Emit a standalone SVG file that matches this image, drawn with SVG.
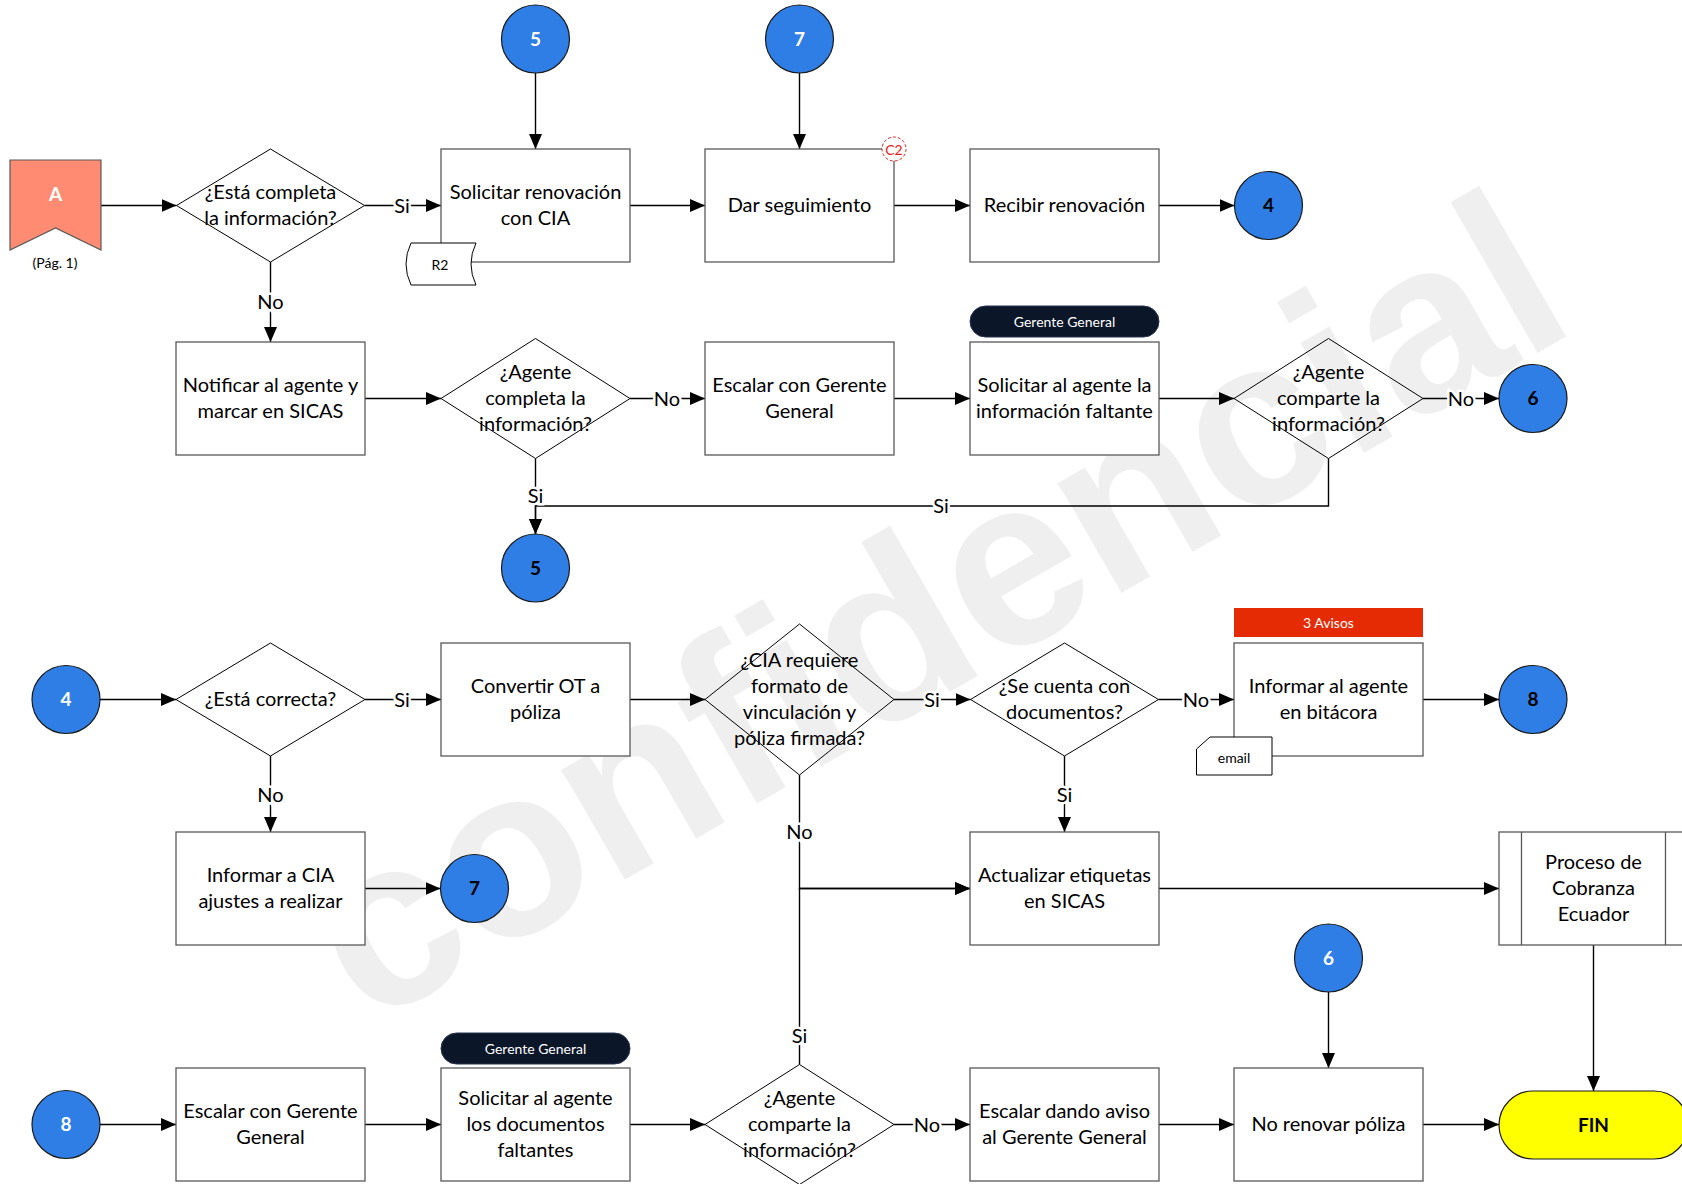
<svg xmlns="http://www.w3.org/2000/svg" width="1682" height="1184" viewBox="0 0 1682 1184">
<defs>
<marker id="arr" viewBox="0 0 15 13" markerWidth="15" markerHeight="13" refX="15" refY="6.5" orient="auto" markerUnits="userSpaceOnUse">
<path d="M0,0 L15,6.5 L0,13 Z" fill="#000"/>
</marker>
<style>
.box{fill:#fff;stroke:#595959;stroke-width:1.3}
.dia{fill:none;stroke:#000;stroke-width:1}
.circ{fill:#2e7ee5;stroke:#1a1a1a;stroke-width:1.2}
.t{font-family:Lato,"Liberation Sans",sans-serif;font-size:20px;fill:#000;text-anchor:middle;dominant-baseline:central;transform:translateY(-2px)}
.num{font-family:Lato,"Liberation Sans",sans-serif;font-size:19px;font-weight:bold;text-anchor:middle;dominant-baseline:central;transform:translateY(-1px)}
.w{fill:#fff}
.k{fill:#000}
.sm{font-family:Lato,"Liberation Sans",sans-serif;font-size:14px;text-anchor:middle;dominant-baseline:central}
.con{fill:none;stroke:#000;stroke-width:1.4;marker-end:url(#arr)}
.ln{fill:none;stroke:#000;stroke-width:1.4}
.lbl{font-family:Lato,"Liberation Sans",sans-serif;font-size:20px;fill:#000;text-anchor:middle;dominant-baseline:central;stroke:#fff;stroke-width:5;paint-order:stroke}
</style>
</defs>
<rect width="1682" height="1184" fill="#fff"/>
<text x="368" y="1028" transform="rotate(-30 368 1028)" font-family="'Liberation Sans',Arial,sans-serif" font-weight="bold" font-size="240" fill="#efefef">confidencial</text>

<g id="connectors">
<path class="con" d="M101,205.5 H176.5"/>
<path class="con" d="M364.5,205.5 H441"/>
<path class="con" d="M270.5,262 V342"/>
<path class="con" d="M535.5,73 V149"/>
<path class="con" d="M630,205.5 H705"/>
<path class="con" d="M799.5,73 V149"/>
<path class="con" d="M894,205.5 H970"/>
<path class="con" d="M1159,205.5 H1234.5"/>
<path class="con" d="M365,398.5 H441"/>
<path class="con" d="M630,398.5 H705"/>
<path class="con" d="M894,398.5 H970"/>
<path class="con" d="M1159,398.5 H1234"/>
<path class="con" d="M1423,398.5 H1499"/>
<path class="con" d="M535.5,458.5 V534"/>
<path class="con" d="M1328.5,458.5 V506 H535.5 V534"/>
<path class="con" d="M100,699.5 H176"/>
<path class="con" d="M365,699.5 H441"/>
<path class="con" d="M270.5,756 V832"/>
<path class="con" d="M365,888.5 H440.5"/>
<path class="con" d="M630,699.5 H705"/>
<path class="con" d="M894,699.5 H970.5"/>
<path class="con" d="M1158.5,699.5 H1234"/>
<path class="con" d="M1423,699.5 H1499"/>
<path class="con" d="M1064.5,756 V832"/>
<path class="con" d="M799.5,775 V888.5 H970"/>
<path class="con" d="M799.5,1064.5 V888.5 H970"/>
<path class="con" d="M1159,888.5 H1499"/>
<path class="con" d="M1593.5,945 V1091"/>
<path class="con" d="M1328.5,992 V1068"/>
<path class="con" d="M100,1124.5 H176"/>
<path class="con" d="M365,1124.5 H441"/>
<path class="con" d="M630,1124.5 H705"/>
<path class="con" d="M894,1124.5 H970"/>
<path class="con" d="M1159,1124.5 H1234"/>
<path class="con" d="M1423,1124.5 H1499"/>
<text class="lbl" x="402" y="204.5">Si</text>
<text class="lbl" x="270.5" y="301">No</text>
<text class="lbl" x="667" y="397.5">No</text>
<text class="lbl" x="1461" y="397.5">No</text>
<text class="lbl" x="535.5" y="495">Si</text>
<text class="lbl" x="941" y="505">Si</text>
<text class="lbl" x="402" y="698.5">Si</text>
<text class="lbl" x="270.5" y="794">No</text>
<text class="lbl" x="932" y="698.5">Si</text>
<text class="lbl" x="1196" y="698.5">No</text>
<text class="lbl" x="1064.5" y="794">Si</text>
<text class="lbl" x="799.5" y="831">No</text>
<text class="lbl" x="799.5" y="1035">Si</text>
<text class="lbl" x="927" y="1123.5">No</text>
</g>

<g id="nA"><path d="M10,160 H101 V250 L55.5,228 L10,250 Z" fill="#ff8c72" stroke="#595959" stroke-width="1.2"/>
<text class="num w" x="55.5" y="194">A</text>
<text class="sm k" x="55" y="262" font-size="13.5">(Pág. 1)</text></g>

<g id="d1"><path class="dia" d="M270.5,149 L364.5,205.5 L270.5,262 L176.5,205.5 Z"/>
<text class="t" x="270.5" y="192.5">¿Está completa</text><text class="t" x="270.5" y="218.5">la información?</text></g>

<g id="c5a"><circle class="circ" cx="535.5" cy="39" r="34"/><text class="num w" x="535.5" y="39">5</text></g>
<g id="c7a"><circle class="circ" cx="799.5" cy="39" r="34"/><text class="num w" x="799.5" y="39">7</text></g>

<g id="b1"><rect class="box" x="441" y="149" width="189" height="113"/>
<text class="t" x="535.5" y="192.5">Solicitar renovación</text><text class="t" x="535.5" y="218.5">con CIA</text>
<path d="M411,243 H476 Q466,264 476,285 H411 Q401,264 411,243 Z" fill="#fff" stroke="#000" stroke-width="1"/>
<text class="sm k" x="440" y="264" font-size="13">R2</text></g>

<g id="b2"><rect class="box" x="705" y="149" width="189" height="113"/>
<text class="t" x="799.5" y="205.5">Dar seguimiento</text>
<circle cx="894" cy="149" r="12" fill="#fff" stroke="#e02020" stroke-width="1" stroke-dasharray="3,2"/>
<text class="sm" x="894" y="149" font-size="11" fill="#e02020">C2</text></g>

<g id="b3"><rect class="box" x="970" y="149" width="189" height="113"/>
<text class="t" x="1064.5" y="205.5">Recibir renovación</text></g>

<g id="c4a"><circle class="circ" cx="1268.5" cy="205.5" r="34"/><text class="num k" x="1268.5" y="205.5">4</text></g>

<g id="b4"><rect class="box" x="176" y="342" width="189" height="113"/>
<text class="t" x="270.5" y="385.5">Notificar al agente y</text><text class="t" x="270.5" y="411.5">marcar en SICAS</text></g>

<g id="d2"><path class="dia" d="M535.5,338.5 L630,398.5 L535.5,458.5 L441,398.5 Z"/>
<text class="t" x="535.5" y="372.5">¿Agente</text><text class="t" x="535.5" y="398.5">completa la</text><text class="t" x="535.5" y="424.5">información?</text></g>

<g id="b5"><rect class="box" x="705" y="342" width="189" height="113"/>
<text class="t" x="799.5" y="385.5">Escalar con Gerente</text><text class="t" x="799.5" y="411.5">General</text></g>

<g id="b6"><rect x="970" y="306" width="189" height="31" rx="15.5" fill="#0b1628" stroke="#2a3550" stroke-width="1"/>
<text class="sm w" x="1064.5" y="321.5">Gerente General</text>
<rect class="box" x="970" y="342" width="189" height="113"/>
<text class="t" x="1064.5" y="385.5">Solicitar al agente la</text><text class="t" x="1064.5" y="411.5">información faltante</text></g>

<g id="d3"><path class="dia" d="M1328.5,338.5 L1423,398.5 L1328.5,458.5 L1234,398.5 Z"/>
<text class="t" x="1328.5" y="372.5">¿Agente</text><text class="t" x="1328.5" y="398.5">comparte la</text><text class="t" x="1328.5" y="424.5">información?</text></g>

<g id="c6a"><circle class="circ" cx="1533" cy="398.5" r="34"/><text class="num k" x="1533" y="398.5">6</text></g>
<g id="c5b"><circle class="circ" cx="535.5" cy="568" r="34"/><text class="num k" x="535.5" y="568">5</text></g>

<g id="c4b"><circle class="circ" cx="66" cy="699.5" r="34"/><text class="num w" x="66" y="699.5">4</text></g>

<g id="d4"><path class="dia" d="M270.5,643 L365,699.5 L270.5,756 L176,699.5 Z"/>
<text class="t" x="270.5" y="699.5">¿Está correcta?</text></g>

<g id="b7"><rect class="box" x="441" y="643" width="189" height="113"/>
<text class="t" x="535.5" y="686.5">Convertir OT a</text><text class="t" x="535.5" y="712.5">póliza</text></g>

<g id="d5"><path class="dia" d="M799.5,624 L894,699.5 L799.5,775 L705,699.5 Z"/>
<text class="t" x="799.5" y="660.5">¿CIA requiere</text><text class="t" x="799.5" y="686.5">formato de</text><text class="t" x="799.5" y="712.5">vinculación y</text><text class="t" x="799.5" y="738.5">póliza firmada?</text></g>

<g id="d6"><path class="dia" d="M1064.5,643 L1158.5,699.5 L1064.5,756 L970.5,699.5 Z"/>
<text class="t" x="1064.5" y="686.5">¿Se cuenta con</text><text class="t" x="1064.5" y="712.5">documentos?</text></g>

<g id="b8"><rect x="1234" y="608" width="189" height="29" fill="#e52b04"/>
<text class="sm w" x="1328.5" y="622.5">3 Avisos</text>
<rect class="box" x="1234" y="643" width="189" height="113"/>
<text class="t" x="1328.5" y="686.5">Informar al agente</text><text class="t" x="1328.5" y="712.5">en bitácora</text>
<path d="M1210,737 H1272 V775 H1196.5 V749 Z" fill="#fff" stroke="#000" stroke-width="1"/>
<text class="sm k" x="1234" y="757" font-size="13">email</text></g>

<g id="c8a"><circle class="circ" cx="1533" cy="699.5" r="34"/><text class="num k" x="1533" y="699.5">8</text></g>

<g id="b9"><rect class="box" x="176" y="832" width="189" height="113"/>
<text class="t" x="270.5" y="875.5">Informar a CIA</text><text class="t" x="270.5" y="901.5">ajustes a realizar</text></g>

<g id="c7b"><circle class="circ" cx="474.5" cy="888.5" r="34"/><text class="num k" x="474.5" y="888.5">7</text></g>

<g id="b10"><rect class="box" x="970" y="832" width="189" height="113"/>
<text class="t" x="1064.5" y="875.5">Actualizar etiquetas</text><text class="t" x="1064.5" y="901.5">en SICAS</text></g>

<g id="b11"><rect class="box" x="1499" y="832" width="189" height="113"/>
<path d="M1521.5,832 V945 M1665.5,832 V945" stroke="#595959" stroke-width="1.3"/>
<text class="t" x="1593.5" y="862.5">Proceso de</text><text class="t" x="1593.5" y="888.5">Cobranza</text><text class="t" x="1593.5" y="914.5">Ecuador</text></g>

<g id="c6b"><circle class="circ" cx="1328.5" cy="958" r="34"/><text class="num w" x="1328.5" y="958">6</text></g>

<g id="c8b"><circle class="circ" cx="66" cy="1124.5" r="34"/><text class="num w" x="66" y="1124.5">8</text></g>

<g id="b12"><rect class="box" x="176" y="1068" width="189" height="113"/>
<text class="t" x="270.5" y="1111.5">Escalar con Gerente</text><text class="t" x="270.5" y="1137.5">General</text></g>

<g id="b13"><rect x="441" y="1033" width="189" height="31" rx="15.5" fill="#0b1628" stroke="#2a3550" stroke-width="1"/>
<text class="sm w" x="535.5" y="1048.5">Gerente General</text>
<rect class="box" x="441" y="1068" width="189" height="113"/>
<text class="t" x="535.5" y="1098.5">Solicitar al agente</text><text class="t" x="535.5" y="1124.5">los documentos</text><text class="t" x="535.5" y="1150.5">faltantes</text></g>

<g id="d7"><path class="dia" d="M799.5,1064.5 L894,1124.5 L799.5,1184.5 L705,1124.5 Z"/>
<text class="t" x="799.5" y="1098.5">¿Agente</text><text class="t" x="799.5" y="1124.5">comparte la</text><text class="t" x="799.5" y="1150.5">información?</text></g>

<g id="b14"><rect class="box" x="970" y="1068" width="189" height="113"/>
<text class="t" x="1064.5" y="1111.5">Escalar dando aviso</text><text class="t" x="1064.5" y="1137.5">al Gerente General</text></g>

<g id="b15"><rect class="box" x="1234" y="1068" width="189" height="113"/>
<text class="t" x="1328.5" y="1124.5">No renovar póliza</text></g>

<g id="fin"><rect x="1499" y="1091" width="189" height="68" rx="34" fill="#ffff00" stroke="#1a1a1a" stroke-width="1.2"/>
<text class="num k" x="1593.5" y="1125">FIN</text></g>
</svg>
